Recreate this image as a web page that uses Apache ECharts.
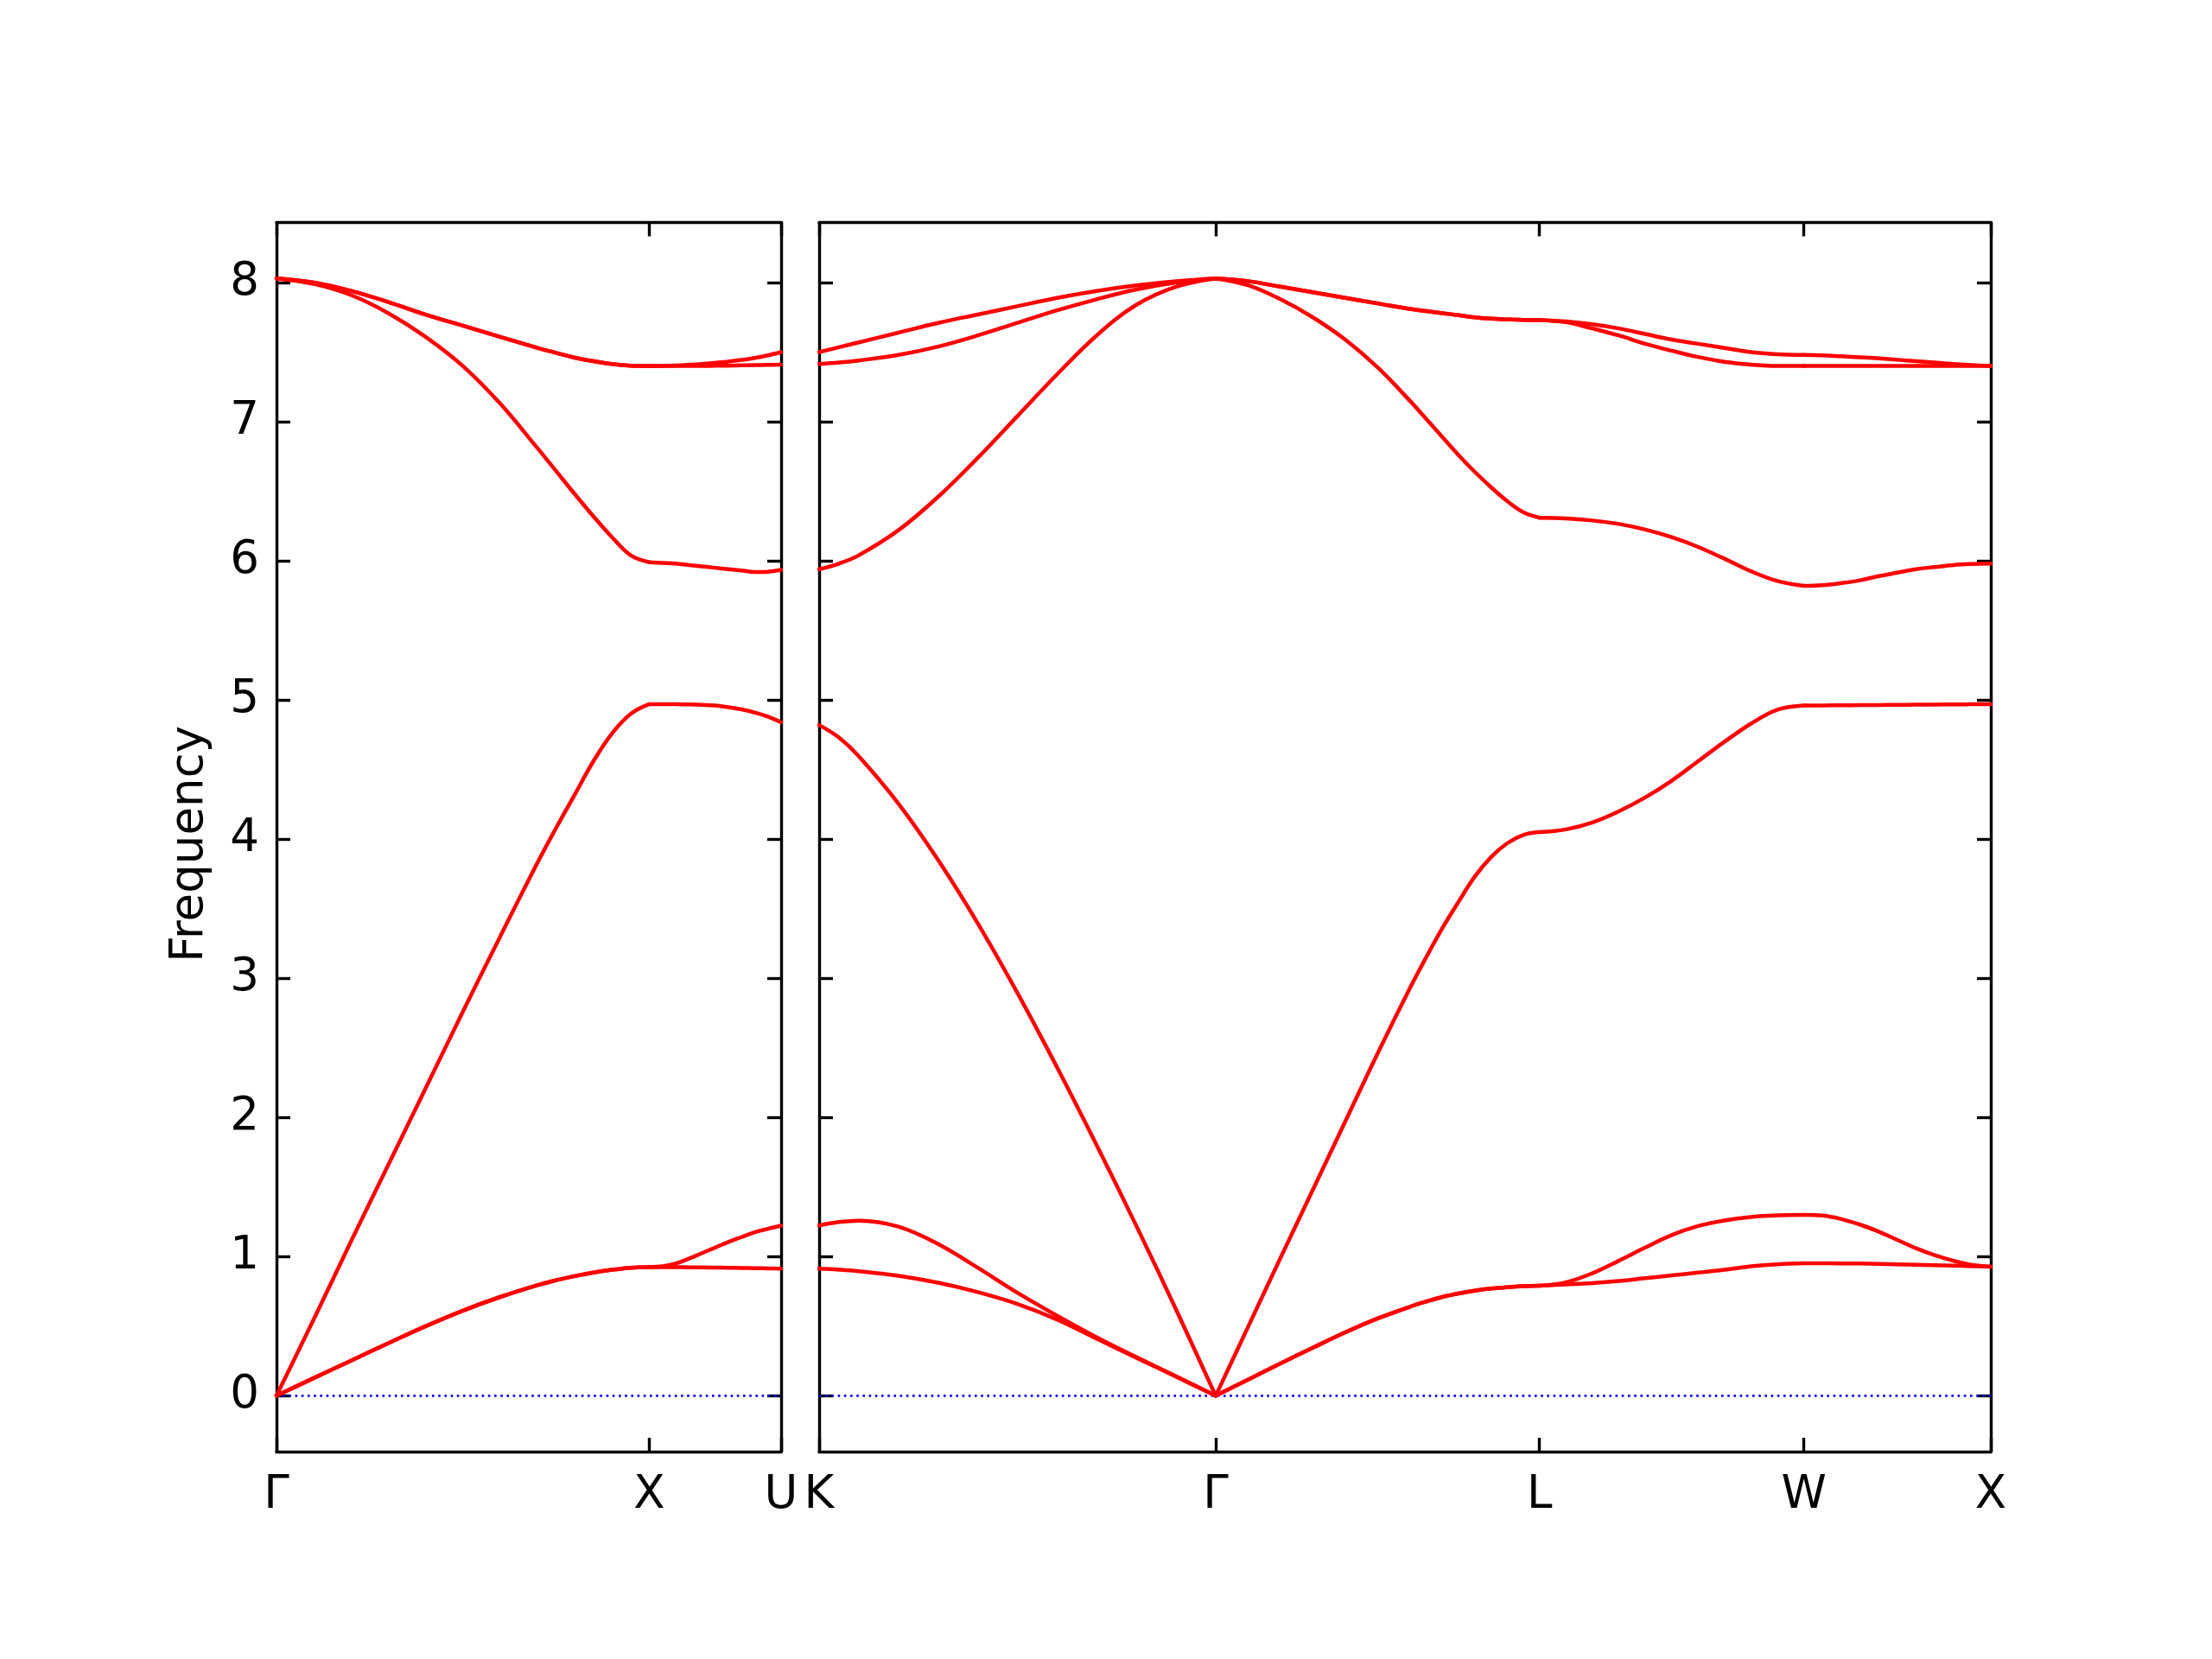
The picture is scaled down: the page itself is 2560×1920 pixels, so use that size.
<!DOCTYPE html>
<html>
<head>
<meta charset="utf-8">
<script src="https://cdn.jsdelivr.net/npm/echarts@6/dist/echarts.min.js"></script>
<style>html,body{margin:0;padding:0;background:#fff}#c{width:2560px;height:1920px}</style>
</head>
<body>
<div id="c"></div>
<script>
// ---- path (distances in 2π/a units) ----
const panel1Ticks = [0, 1, 1.35355];
const panel1Labels = ['Γ', 'X', 'U'];
const panel2Ticks = [0, 1.06066, 1.92669, 2.63380, 3.13380];
const panel2Labels = ['K', 'Γ', 'L', 'W', 'X'];
const yTicks = [0, 1, 2, 3, 4, 5, 6, 7, 8];
const yMin = -0.4015, yMax = 8.4315;

// ---- Γ -> X (panel 1) ----
const posGX = [0, 0.1, 0.2, 0.3, 0.4, 0.5, 0.6, 0.7, 0.75, 0.8, 0.85, 0.9, 0.95, 1.0];
const bandsGX = [
  [0, 0.127, 0.252, 0.378, 0.50, 0.612, 0.71, 0.795, 0.83, 0.86, 0.885, 0.905, 0.92, 0.925],
  [0, 0.127, 0.252, 0.378, 0.50, 0.612, 0.71, 0.795, 0.83, 0.86, 0.885, 0.905, 0.92, 0.925],
  [0, 0.55, 1.11, 1.66, 2.21, 2.76, 3.30, 3.83, 4.08, 4.32, 4.56, 4.76, 4.90, 4.97],
  [8.03, 7.99, 7.91, 7.78, 7.61, 7.40, 7.13, 6.81, 6.645, 6.48, 6.32, 6.17, 6.04, 5.99],
  [8.03, 8.00, 7.94, 7.86, 7.77, 7.69, 7.61, 7.53, 7.495, 7.46, 7.435, 7.415, 7.403, 7.40],
  [8.03, 8.00, 7.94, 7.86, 7.77, 7.69, 7.61, 7.53, 7.495, 7.46, 7.435, 7.415, 7.403, 7.40]
];
// ---- X -> U (panel 1) ----
const posXU = [0, 0.1, 0.2, 0.3, 0.4, 0.5, 0.6, 0.7, 0.8, 0.9, 1.0];
const bandsXU = [
  [0.925, 0.925, 0.924, 0.923, 0.922, 0.921, 0.92, 0.918, 0.917, 0.915, 0.913],
  [0.925, 0.93, 0.95, 0.985, 1.025, 1.065, 1.105, 1.14, 1.175, 1.20, 1.222],
  [4.97, 4.97, 4.97, 4.968, 4.965, 4.96, 4.948, 4.932, 4.91, 4.88, 4.84],
  [5.99, 5.985, 5.98, 5.97, 5.96, 5.95, 5.94, 5.93, 5.92, 5.922, 5.935],
  [7.40, 7.40, 7.40, 7.40, 7.401, 7.402, 7.403, 7.405, 7.407, 7.408, 7.41],
  [7.40, 7.401, 7.404, 7.409, 7.415, 7.423, 7.432, 7.444, 7.458, 7.477, 7.50]
];
// ---- K -> Γ (panel 2) ----
const posKG = [0, 0.05, 0.1, 0.2, 0.3, 0.4, 0.5, 0.6, 0.7, 0.8, 0.9, 1.0];
const bandsKG = [
  [0.913, 0.906, 0.895, 0.862, 0.812, 0.745, 0.66, 0.548, 0.41, 0.273, 0.137, 0],
  [1.224, 1.248, 1.258, 1.215, 1.09, 0.92, 0.74, 0.575, 0.42, 0.278, 0.14, 0],
  [4.82, 4.73, 4.595, 4.255, 3.85, 3.395, 2.895, 2.36, 1.80, 1.22, 0.62, 0],
  [5.94, 5.98, 6.04, 6.22, 6.46, 6.74, 7.04, 7.34, 7.62, 7.84, 7.97, 8.03],
  [7.415, 7.425, 7.44, 7.48, 7.54, 7.62, 7.71, 7.80, 7.88, 7.95, 8.00, 8.03],
  [7.50, 7.535, 7.57, 7.64, 7.71, 7.77, 7.83, 7.89, 7.94, 7.98, 8.01, 8.03]
];
// ---- Γ -> L (panel 2) ----
const posGL = [0, 0.1, 0.2, 0.3, 0.4, 0.5, 0.6, 0.65, 0.7, 0.75, 0.8, 0.85, 0.9, 0.95, 1.0];
const bandsGL = [
  [0, 0.116, 0.232, 0.345, 0.455, 0.555, 0.64, 0.677, 0.71, 0.735, 0.755, 0.77, 0.78, 0.787, 0.79],
  [0, 0.116, 0.232, 0.345, 0.455, 0.555, 0.64, 0.677, 0.71, 0.735, 0.755, 0.77, 0.78, 0.787, 0.79],
  [0, 0.495, 0.99, 1.48, 1.97, 2.46, 2.93, 3.15, 3.36, 3.55, 3.73, 3.87, 3.97, 4.03, 4.05],
  [8.03, 7.98, 7.88, 7.75, 7.59, 7.39, 7.15, 7.02, 6.89, 6.76, 6.64, 6.53, 6.43, 6.35, 6.31],
  [8.03, 8.01, 7.97, 7.93, 7.89, 7.85, 7.81, 7.795, 7.78, 7.765, 7.75, 7.74, 7.735, 7.731, 7.73],
  [8.03, 8.01, 7.97, 7.93, 7.89, 7.85, 7.81, 7.795, 7.78, 7.765, 7.75, 7.74, 7.735, 7.731, 7.73]
];
// ---- L -> W (panel 2) ----
const posLW = [0, 0.1, 0.2, 0.3, 0.4, 0.5, 0.6, 0.7, 0.8, 0.9, 1.0];
const bandsLW = [
  [0.79, 0.80, 0.81, 0.825, 0.845, 0.865, 0.885, 0.905, 0.93, 0.945, 0.952],
  [0.79, 0.815, 0.88, 0.97, 1.065, 1.155, 1.22, 1.26, 1.285, 1.297, 1.30],
  [4.05, 4.07, 4.12, 4.20, 4.30, 4.42, 4.56, 4.70, 4.83, 4.93, 4.96],
  [6.31, 6.305, 6.29, 6.265, 6.225, 6.17, 6.10, 6.015, 5.925, 5.855, 5.82],
  [7.73, 7.715, 7.67, 7.62, 7.56, 7.51, 7.465, 7.43, 7.41, 7.40, 7.40],
  [7.73, 7.72, 7.70, 7.67, 7.63, 7.59, 7.56, 7.53, 7.50, 7.485, 7.48]
];
// ---- W -> X (panel 2) ----
const posWX = [0, 0.1, 0.2, 0.3, 0.4, 0.5, 0.6, 0.7, 0.8, 0.9, 1.0];
const bandsWX = [
  [0.952, 0.952, 0.951, 0.95, 0.948, 0.945, 0.942, 0.938, 0.935, 0.931, 0.928],
  [1.30, 1.295, 1.27, 1.23, 1.18, 1.12, 1.06, 1.01, 0.97, 0.94, 0.928],
  [4.96, 4.961, 4.962, 4.963, 4.964, 4.965, 4.966, 4.967, 4.968, 4.969, 4.97],
  [5.82, 5.825, 5.84, 5.86, 5.89, 5.915, 5.94, 5.955, 5.97, 5.977, 5.98],
  [7.40, 7.40, 7.40, 7.40, 7.40, 7.40, 7.40, 7.40, 7.40, 7.40, 7.40],
  [7.48, 7.477, 7.47, 7.463, 7.455, 7.445, 7.435, 7.425, 7.415, 7.407, 7.40]
];
const zeroLevel = 0;

// ---- build ----
const FONT = 'DejaVu Sans';
const FS = 53;
const AXW = 3.4;
const TICKLEN = 16;

const segments = [
  { axis: 0, from: panel1Ticks[0], to: panel1Ticks[1], pos: posGX, bands: bandsGX },
  { axis: 0, from: panel1Ticks[1], to: panel1Ticks[2], pos: posXU, bands: bandsXU },
  { axis: 1, from: panel2Ticks[0], to: panel2Ticks[1], pos: posKG, bands: bandsKG },
  { axis: 1, from: panel2Ticks[1], to: panel2Ticks[2], pos: posGL, bands: bandsGL },
  { axis: 1, from: panel2Ticks[2], to: panel2Ticks[3], pos: posLW, bands: bandsLW },
  { axis: 1, from: panel2Ticks[3], to: panel2Ticks[4], pos: posWX, bands: bandsWX }
];

const series = [];
// zero reference lines
[[panel1Ticks, 0], [panel2Ticks, 1]].forEach(([ticks, p]) => {
  series.push({
    type: 'line', xAxisIndex: p * 2, yAxisIndex: p * 2, silent: true,
    showSymbol: false, animation: false, z: 1,
    data: [[ticks[0], zeroLevel], [ticks[ticks.length - 1], zeroLevel]],
    lineStyle: { color: '#0000ff', width: 2.6, type: [2.6, 4.6], cap: 'butt' }
  });
});
segments.forEach(seg => {
  const len = seg.to - seg.from;
  seg.bands.forEach(vals => {
    series.push({
      type: 'line', xAxisIndex: seg.axis * 2, yAxisIndex: seg.axis * 2,
      showSymbol: false, animation: false, z: 3, smooth: 0.38,
      data: seg.pos.map((p, i) => [seg.from + p * len, vals[i]]),
      lineStyle: { color: '#ff0000', width: 4.5, cap: 'round', join: 'round' }
    });
  });
});

function fmt(ticks, labels) {
  return v => {
    for (let i = 0; i < ticks.length; i++) if (Math.abs(ticks[i] - v) < 1e-4) return labels[i];
    return '';
  };
}
const lineS = { show: true, onZero: false, lineStyle: { color: '#000', width: AXW } };
const tickS = (vals) => ({ show: true, inside: true, length: TICKLEN, customValues: vals, lineStyle: { color: '#000', width: AXW } });

function xAxes(grid, ticks, labels) {
  return [
    { type: 'value', gridIndex: grid, position: 'bottom', min: ticks[0], max: ticks[ticks.length - 1],
      axisLine: lineS, axisTick: tickS(ticks), splitLine: { show: false },
      axisLabel: { show: true, customValues: ticks, formatter: fmt(ticks, labels), margin: 25,
        color: '#000', fontFamily: FONT, fontSize: FS, showMinLabel: true, showMaxLabel: true } },
    { type: 'value', gridIndex: grid, position: 'top', min: ticks[0], max: ticks[ticks.length - 1],
      axisLine: lineS, axisTick: tickS(ticks), splitLine: { show: false }, axisLabel: { show: false } }
  ];
}
function yAxes(grid, withLabels) {
  const left = { type: 'value', gridIndex: grid, position: 'left', min: yMin, max: yMax,
    axisLine: lineS, axisTick: tickS(yTicks), splitLine: { show: false },
    axisLabel: withLabels ? { show: true, customValues: yTicks, margin: 20, color: '#000',
      padding: [5, 0, 0, 0],
      fontFamily: FONT, fontSize: FS, formatter: v => String(Math.round(v)) } : { show: false } };
  if (withLabels) {
    Object.assign(left, { name: 'Frequency', nameLocation: 'middle', nameRotate: 90, nameGap: 73,
      nameTextStyle: { color: '#000', fontFamily: FONT, fontSize: FS, padding: [0, 16, 0, 0] } });
  }
  const right = { type: 'value', gridIndex: grid, position: 'right', min: yMin, max: yMax,
    axisLine: lineS, axisTick: tickS(yTicks), splitLine: { show: false }, axisLabel: { show: false } };
  return [left, right];
}

const chart = echarts.init(document.getElementById('c'), null, { renderer: 'canvas', width: 2560, height: 1920 });
chart.setOption({
  backgroundColor: '#ffffff',
  animation: false,
  grid: [
    { left: 320, top: 257.5, width: 584, height: 1422.5, containLabel: false },
    { left: 948, top: 257.5, width: 1356, height: 1422.5, containLabel: false }
  ],
  xAxis: [].concat(xAxes(0, panel1Ticks, panel1Labels), xAxes(1, panel2Ticks, panel2Labels)),
  yAxis: [].concat(yAxes(0, true), yAxes(1, false)),
  series: series
});
</script>
</body>
</html>
